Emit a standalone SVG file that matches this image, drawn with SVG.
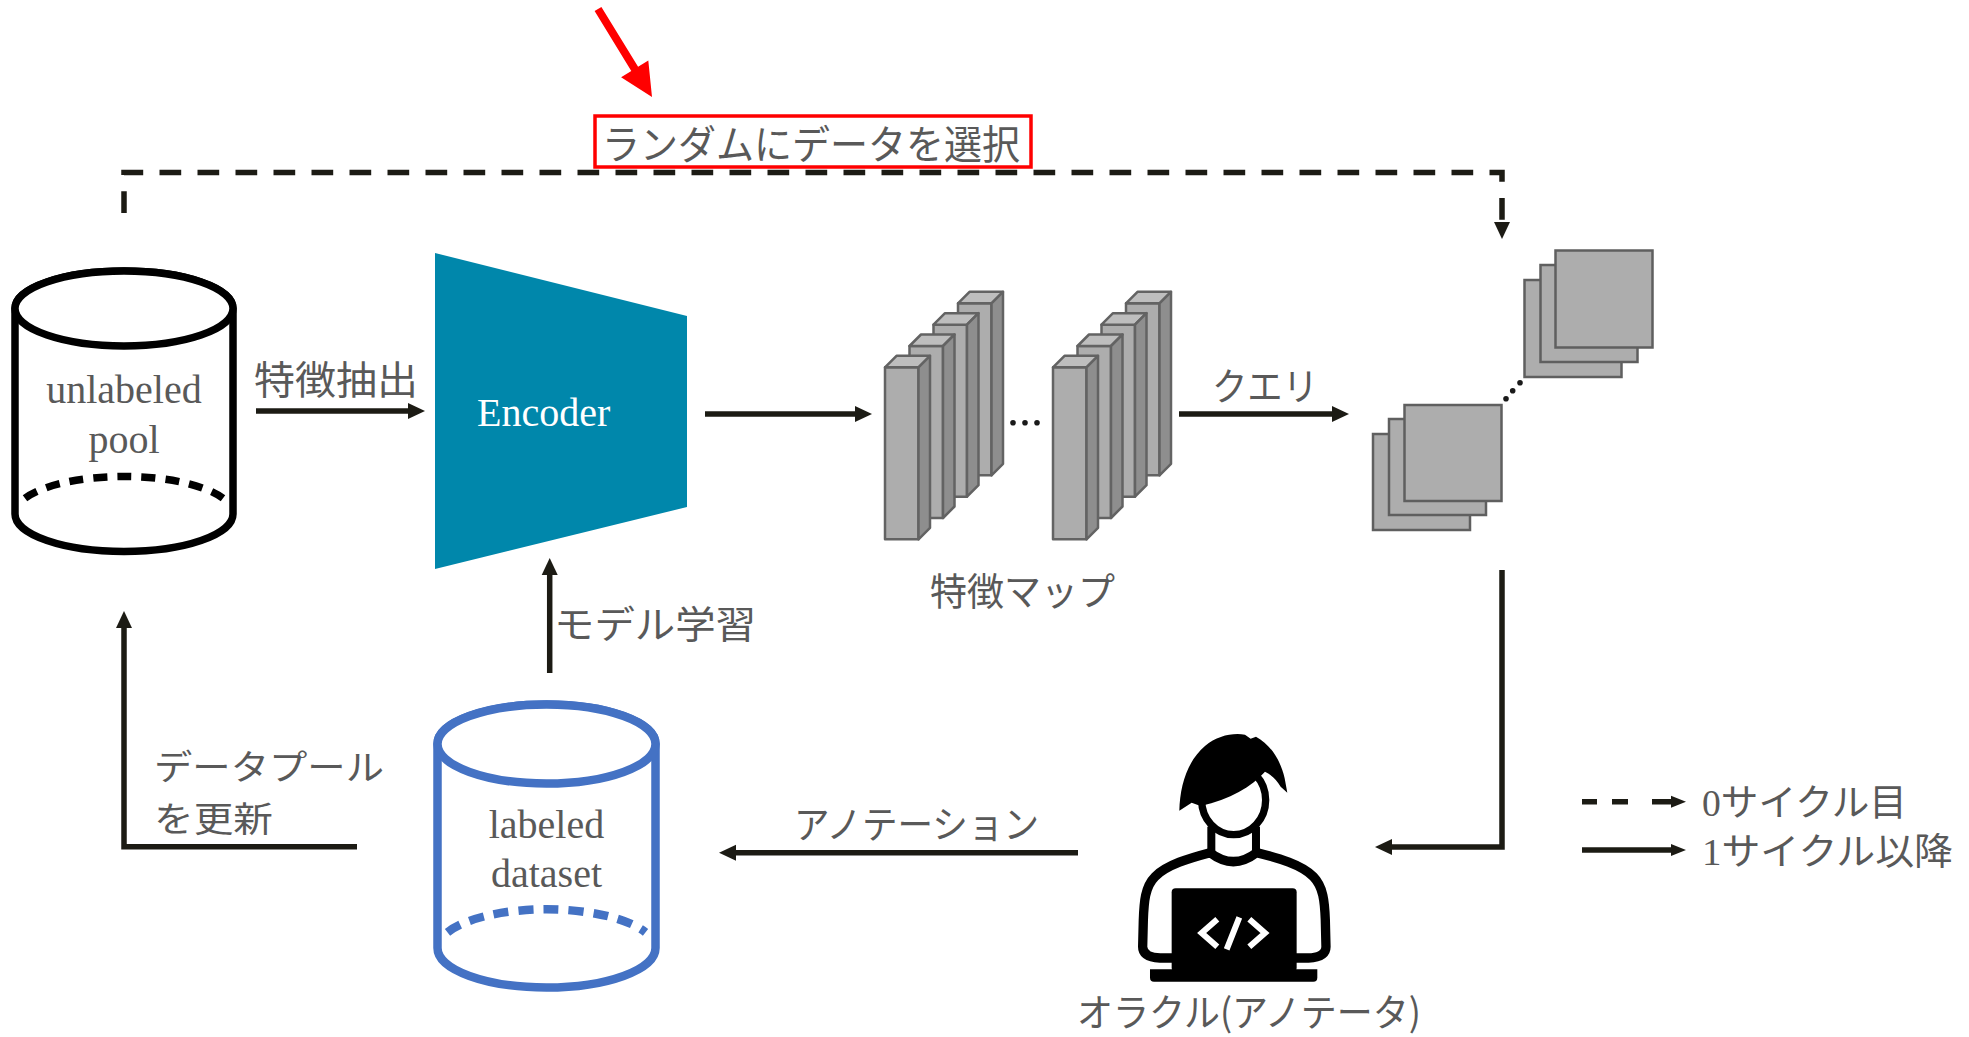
<svg xmlns="http://www.w3.org/2000/svg" xmlns:xlink="http://www.w3.org/1999/xlink" width="1969" height="1037" viewBox="0 0 1969 1037">
  <defs>
    <style>
      .cn { fill: none; stroke: #1c1b14; stroke-width: 5.5; }
      .dash { stroke-dasharray: 21.7 16.3; }
      .jp { font-family: "Noto Sans CJK JP", "Noto Sans CJK SC", sans-serif; fill: #595959; }
      .ser { font-family: "Liberation Serif", serif; fill: #595959; font-size: 40px; }
      .bp { stroke: #636363; stroke-width: 2.5; stroke-linejoin: round; }
      .ff { fill: #ADADAD; }
      .ft { fill: #BEBEBE; }
      .fs { fill: #8E8E8E; }
      .sq { fill: #ADADAD; stroke: #5f5f5f; stroke-width: 2.5; }
      .dot { fill: #1a1a1a; }
    </style>
    <marker id="ah" markerUnits="userSpaceOnUse" markerWidth="20" markerHeight="20" viewBox="0 -10 20 20" refX="0" refY="0" orient="auto">
      <path d="M0,-8 L17,0 L0,8 Z" fill="#1c1b14"/>
    </marker>
    <marker id="ahs" markerUnits="userSpaceOnUse" markerWidth="18" markerHeight="16" viewBox="0 -8 18 16" refX="0" refY="0" orient="auto">
      <path d="M0,-6 L15,0 L0,6 Z" fill="#1c1b14"/>
    </marker>
    <!-- one 3D feature-map slab, origin at the top-left of its front face -->
    <g id="bar">
      <rect class="bp ff" x="0" y="0" width="33.5" height="172"/>
      <path class="bp ft" d="M0,0 L11.5,-11.5 H45 L33.5,0 Z"/>
      <path class="bp fs" d="M33.5,0 L45,-11.5 V160.5 L33.5,172 Z"/>
    </g>
  </defs>

  <rect width="1969" height="1037" fill="#ffffff"/>

  <!-- connectors -->
  <g id="connectors">
    <path class="cn dash" d="M124,213 V172.5 H1502 V222" marker-end="url(#ah)"/>
    <path class="cn" d="M256,411 H408" marker-end="url(#ah)"/>
    <path class="cn" d="M705,414 H855" marker-end="url(#ah)"/>
    <path class="cn" d="M1179,414 H1332" marker-end="url(#ah)"/>
    <path class="cn" d="M1502,570 V847 H1392" marker-end="url(#ah)"/>
    <path class="cn" d="M1078,852.7 H736" marker-end="url(#ah)"/>
    <path class="cn" d="M357,846.7 H124 V628" marker-end="url(#ah)"/>
    <path class="cn" d="M549.7,673 V575" marker-end="url(#ah)"/>

    <text class="jp" x="254" y="394" font-size="39" textLength="164" lengthAdjust="spacingAndGlyphs">特徴抽出</text>
    <text class="jp" x="1212" y="400" font-size="38" textLength="106" lengthAdjust="spacingAndGlyphs">クエリ</text>
    <text class="jp" x="554" y="638" font-size="38" textLength="202" lengthAdjust="spacingAndGlyphs">モデル学習</text>
    <text class="jp" font-size="35"><tspan x="154" y="780" textLength="230" lengthAdjust="spacingAndGlyphs">データプール</tspan><tspan x="154" y="832" textLength="119" lengthAdjust="spacingAndGlyphs">を更新</tspan></text>
    <text class="jp" x="794" y="838" font-size="38" textLength="245" lengthAdjust="spacingAndGlyphs">アノテーション</text>
  </g>

  <!-- random selection note -->
  <g id="random-select">
    <polygon fill="#FF0000" points="601.4,6.9 638.1,66.8 648.3,60.5 652,97 621.1,77.3 631.3,71 594.6,11.1"/>
    <rect x="595" y="116" width="436" height="51" fill="#ffffff" stroke="#FF0000" stroke-width="3.5"/>
    <text class="jp" x="602" y="159" font-size="40" textLength="418" lengthAdjust="spacingAndGlyphs">ランダムにデータを選択</text>
  </g>

  <!-- unlabeled pool -->
  <g id="unlabeled-pool">
    <path d="M15,308.5 V514 A109,37.5 0 0 0 233,514 V308.5 A109,37.5 0 0 0 15,308.5 Z" fill="#ffffff" stroke="#000" stroke-width="7.5"/>
    <ellipse cx="124" cy="308.5" rx="109" ry="37.5" fill="#ffffff" stroke="#000" stroke-width="7.5"/>
    <path d="M25,498.3 A109,37.5 0 0 1 223,498.3" fill="none" stroke="#000" stroke-width="7.5" stroke-dasharray="14 10"/>
    <text class="ser" x="124" y="403" text-anchor="middle">unlabeled</text>
    <text class="ser" x="124" y="453" text-anchor="middle">pool</text>
  </g>

  <!-- encoder -->
  <g id="encoder">
    <polygon points="435,253 687,316 687,507 435,569" fill="#0087AB"/>
    <text x="477" y="426" font-family="'Liberation Serif', serif" font-size="40" fill="#ffffff">Encoder</text>
  </g>

  <!-- feature maps -->
  <g id="feature-maps">
    <use xlink:href="#bar" x="958" y="303.3"/>
    <use xlink:href="#bar" x="933.5" y="324.7"/>
    <use xlink:href="#bar" x="909.5" y="346"/>
    <use xlink:href="#bar" x="885" y="367.3"/>
    <circle class="dot" cx="1013" cy="422.7" r="2.8"/>
    <circle class="dot" cx="1025" cy="422.7" r="2.8"/>
    <circle class="dot" cx="1037" cy="422.7" r="2.8"/>
    <use xlink:href="#bar" x="1126" y="303.3"/>
    <use xlink:href="#bar" x="1101.5" y="324.7"/>
    <use xlink:href="#bar" x="1077.5" y="346"/>
    <use xlink:href="#bar" x="1053" y="367.3"/>
    <text class="jp" x="930" y="605" font-size="38" textLength="185" lengthAdjust="spacingAndGlyphs">特徴マップ</text>
  </g>

  <!-- queried samples -->
  <g id="query-stack">
    <rect class="sq" x="1524.5" y="280" width="97" height="97"/>
    <rect class="sq" x="1540.5" y="265" width="97" height="97"/>
    <rect class="sq" x="1555.5" y="250.5" width="97" height="97"/>
    <circle class="dot" cx="1506" cy="398.7" r="2.8"/>
    <circle class="dot" cx="1512.7" cy="390.7" r="2.8"/>
    <circle class="dot" cx="1520" cy="382.7" r="2.8"/>
    <rect class="sq" x="1373" y="434" width="97" height="96"/>
    <rect class="sq" x="1389" y="419" width="97" height="96"/>
    <rect class="sq" x="1404.5" y="405" width="97" height="96"/>
  </g>

  <!-- labeled dataset -->
  <g id="labeled-dataset">
    <path d="M437.5,744 V948 A109,39.5 0 0 0 655.5,948 V744 A109,39.5 0 0 0 437.5,744 Z" fill="#ffffff" stroke="#4472C4" stroke-width="8.5"/>
    <ellipse cx="546.5" cy="744" rx="109" ry="39.5" fill="#ffffff" stroke="#4472C4" stroke-width="8.5"/>
    <path d="M447.5,932.3 A109,39.5 0 0 1 645.5,932.3" fill="none" stroke="#4472C4" stroke-width="8.5" stroke-dasharray="15 10"/>
    <text class="ser" x="546.5" y="838" text-anchor="middle">labeled</text>
    <text class="ser" x="546.5" y="887" text-anchor="middle">dataset</text>
  </g>

  <!-- oracle (annotator) -->
  <g id="oracle">
    <g transform="translate(1130,720) scale(0.3333)">
      <path d="M240,398 C180,414 110,434 75,470 C45,500 42,545 40,600 L38,680 C38,700 55,712 90,714 L200,714 L200,600 L430,600 L430,714 L535,714 C570,712 588,700 588,680 L586,600 C584,545 580,500 550,470 C515,434 445,414 380,398 Q310,452 240,398 Z" fill="#ffffff" stroke="#000" stroke-width="28" stroke-linejoin="round"/>
      <path d="M244,320 V412 M378,320 V412" stroke="#000" stroke-width="24" fill="none"/>
      <ellipse cx="311" cy="240" rx="96" ry="104" fill="#ffffff" stroke="#000" stroke-width="22"/>
      <path d="M148,272 C150,200 170,125 225,78 C262,48 305,38 345,44 L362,56 L378,50 C420,72 452,120 464,175 L472,218 L452,200 C440,180 425,165 405,155 C365,200 300,238 212,258 L185,248 Z" fill="#000"/>
      <rect x="125" y="505" width="375" height="250" rx="12" fill="#000"/>
      <path d="M60,748 H562 V773 Q562,785 550,785 H72 Q60,785 60,773 Z" fill="#000"/>
      <path d="M262,598 L215,639 L262,680 M358,598 L405,639 L358,680 M328,592 L290,688" fill="none" stroke="#ffffff" stroke-width="18"/>
    </g>
    <text class="jp" x="1077" y="1026" font-size="38" textLength="344" lengthAdjust="spacingAndGlyphs">オラクル(アノテータ)</text>
  </g>

  <!-- legend -->
  <g id="legend">
    <path class="cn" d="M1582,801.7 H1597 M1612,801.7 H1628 M1652,801.7 H1671" marker-end="url(#ahs)"/>
    <path class="cn" d="M1582,850 H1671" marker-end="url(#ahs)"/>
    <text class="jp" x="1702" y="816" font-size="37" textLength="205" lengthAdjust="spacingAndGlyphs"><tspan font-family="'Liberation Serif', serif">0</tspan>サイクル目</text>
    <text class="jp" x="1702" y="865" font-size="37" textLength="251" lengthAdjust="spacingAndGlyphs"><tspan font-family="'Liberation Serif', serif">1</tspan>サイクル以降</text>
  </g>
</svg>
